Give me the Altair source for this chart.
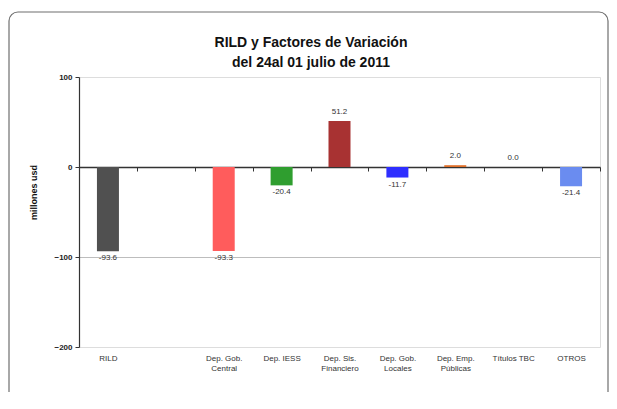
import math
import altair as alt
import pandas as pd

categories = ["RILD", " ", "Dep. Gob.|Central", "Dep. IESS", "Dep. Sis.|Financiero",
              "Dep. Gob.|Locales", "Dep. Emp.|Públicas", "Títulos TBC", "OTROS"]
bar_categories = ["RILD", "Dep. Gob.|Central", "Dep. IESS", "Dep. Sis.|Financiero",
                  "Dep. Gob.|Locales", "Dep. Emp.|Públicas", "Títulos TBC", "OTROS"]
values = [-93.6, -93.3, -20.4, 51.2, -11.7, 2.0, 0.0, -21.4]
bar_colors = ["#505050", "#ff5c5c", "#2f9e2f", "#a83232", "#2e2eff", "#e0702a", "#ffffff", "#6a8cf0"]
y_ticks = [100, 0, -100, -200]
title_lines = ["RILD y Factores de Variación", "del 24al 01 julio de 2011"]

df = pd.DataFrame({"cat": bar_categories, "val": values, "color": bar_colors})
df["label"] = df["val"].map(lambda v: f"{v:.1f}")

x_scale = alt.Scale(domain=categories, paddingInner=0, paddingOuter=0)
y_scale = alt.Scale(domain=[-200, 100], nice=False, zero=False)

base = alt.Chart(df)
one = pd.DataFrame({"k": [0]})

# decorative rounded frame (left, top, right edges + two rounded corners)
FL, FR, FT, FB, R = -70, 529, -65, 315, 9
FC = "#6e6e6e"
frame_left = alt.Chart(one).mark_rule(color=FC, strokeWidth=1.2).encode(
    x=alt.value(FL), y=alt.value(FT + R), y2=alt.value(FB))
frame_right = alt.Chart(one).mark_rule(color=FC, strokeWidth=1.2).encode(
    x=alt.value(FR), y=alt.value(FT + R), y2=alt.value(FB))
frame_top = alt.Chart(one).mark_rule(color=FC, strokeWidth=1.2).encode(
    x=alt.value(FL + R), x2=alt.value(FR - R), y=alt.value(FT))
corner_tl = alt.Chart(one).mark_arc(color=FC, radius=R + 0.6, radius2=R - 0.6,
                                    theta=1.5 * math.pi, theta2=2 * math.pi).encode(
    x=alt.value(FL + R), y=alt.value(FT + R))
corner_tr = alt.Chart(one).mark_arc(color=FC, radius=R + 0.6, radius2=R - 0.6,
                                    theta=0, theta2=0.5 * math.pi).encode(
    x=alt.value(FR - R), y=alt.value(FT + R))

title1 = alt.Chart(pd.DataFrame({"t": [title_lines[0]]})).mark_text(
    font="Liberation Sans", fontSize=14, fontWeight="bold", color="#111",
    align="center", baseline="alphabetic"
).encode(x=alt.value(232), y=alt.value(-30), text="t:N")

title2 = alt.Chart(pd.DataFrame({"t": [title_lines[1]]})).mark_text(
    font="Liberation Sans", fontSize=14, fontWeight="bold", color="#111",
    align="center", baseline="alphabetic"
).encode(x=alt.value(232), y=alt.value(-10), text="t:N")

bars = base.mark_bar(size=22).encode(
    x=alt.X("cat:N", scale=x_scale, sort=categories,
            axis=alt.Axis(title=None, orient="bottom", offset=-180, tickBand="extent",
                          tickSize=4, tickColor="#333", domainColor="#333", domainWidth=1.5,
                          labelPadding=183, labelAngle=0, labelFont="Liberation Sans",
                          labelFontSize=8, labelColor="#333", labelBaseline="top",
                          labelLineHeight=10,
                          labelExpr="split(datum.label, '|')")),
    y=alt.Y("val:Q", scale=y_scale,
            axis=alt.Axis(title="millones usd", values=y_ticks, tickSize=4, tickColor="#333",
                          domainColor="#333", domainWidth=1.2, labelFont="Liberation Sans",
                          labelFontSize=8, labelFontWeight="bold", labelColor="#222",
                          labelPadding=3,
                          grid=True,
                          gridColor={"condition": {"test": "datum.value === -100", "value": "#bdbdbd"},
                                     "value": "transparent"},
                          titleFont="Liberation Sans", titleFontSize=9, titleFontWeight="bold",
                          titleColor="#111", titleX=-46, titleY=115, titleAngle=-90,
                          titleAlign="center", titleBaseline="middle")),
    y2=alt.datum(0),
    fill=alt.Fill("color:N", scale=None),
)

labels_pos = base.transform_filter("datum.val >= 0").mark_text(
    font="Liberation Sans", fontSize=8, color="#333", baseline="bottom", dy=-5
).encode(x=alt.X("cat:N", scale=x_scale, sort=categories), y=alt.Y("val:Q", scale=y_scale), text="label:N")

labels_neg = base.transform_filter("datum.val < 0").mark_text(
    font="Liberation Sans", fontSize=8, color="#333", baseline="top", dy=3
).encode(x=alt.X("cat:N", scale=x_scale, sort=categories), y=alt.Y("val:Q", scale=y_scale), text="label:N")

chart = alt.layer(frame_left, frame_right, frame_top, corner_tl, corner_tr,
                  title1, title2, bars, labels_pos, labels_neg).properties(
    width=521, height=270,
    autosize=alt.AutoSizeParams(type="none"),
    padding={"left": 71, "top": 69, "right": 9, "bottom": 45},
).configure_view(stroke=None).configure(background="white")

chart.save("out.html", embed_options={"renderer": "svg", "actions": False})
